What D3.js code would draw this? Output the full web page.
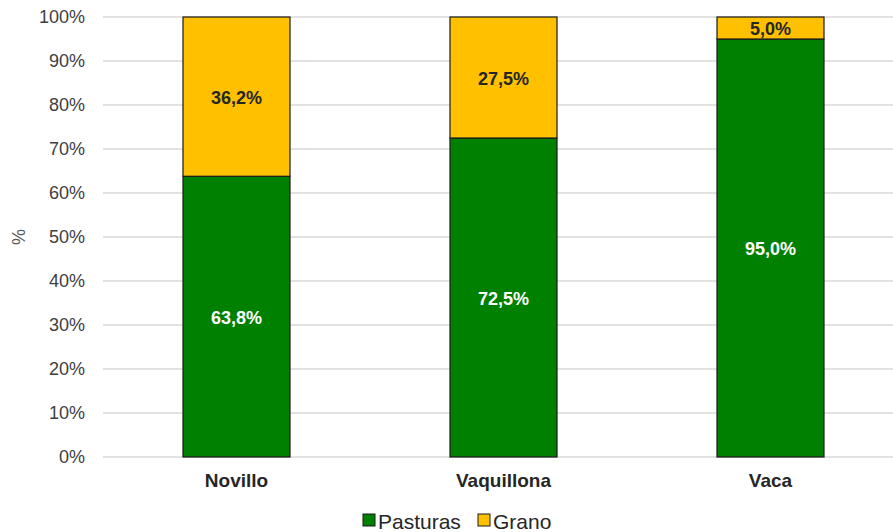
<!DOCTYPE html>
<html>
<head>
<meta charset="utf-8">
<script src="https://cdn.jsdelivr.net/npm/d3@7"></script>
<style>
  html, body { margin: 0; padding: 0; background: #fff; }
  svg { display: block; font-family: "Liberation Sans", Arial, sans-serif; }
</style>
</head>
<body>
<svg id="chart" width="893" height="532"></svg>
<script>
const categories = ["Novillo", "Vaquillona", "Vaca"];
const pasturas = [63.8, 72.5, 95.0];
const grano = [36.2, 27.5, 5.0];
const yTicks = [0, 10, 20, 30, 40, 50, 60, 70, 80, 90, 100];
const seriesNames = ["Pasturas", "Grano"];
const seriesColors = ["#008000", "#FFC000"];
const labelColors = ["#ffffff", "#262626"];

const svg = d3.select("#chart");

const x = d3.scaleBand().domain(categories).range([103, 904]).paddingInner(0.6).paddingOuter(0.3);
const y = d3.scaleLinear().domain([0, 100]).range([457, 17]);

// gridlines
svg.append("g").selectAll("line").data(yTicks).join("line")
  .attr("x1", 103).attr("x2", 893)
  .attr("y1", d => y(d)).attr("y2", d => y(d))
  .attr("stroke", "#d9d9d9").attr("stroke-width", 1.3);

// y axis labels
const yAxis = d3.axisLeft(y).tickValues(yTicks).tickFormat(d => d + "%").tickSize(0).tickPadding(0);
const ya = svg.append("g").attr("transform", "translate(85,0)").call(yAxis);
ya.select(".domain").remove();
ya.selectAll("text").attr("font-size", 18).attr("fill", "#404040")
  .attr("font-family", "Liberation Sans, Arial, sans-serif");

// axis title
svg.append("text").attr("transform", "translate(25,237) rotate(-90)")
  .attr("text-anchor", "middle").attr("font-size", 18).attr("fill", "#595959").text("%");

// stacked data
const rows = categories.map((c, i) => ({ cat: c, Pasturas: pasturas[i], Grano: grano[i] }));
const stack = d3.stack().keys(seriesNames)(rows);

const bw = 107;
const g = svg.append("g");
stack.forEach((layer, li) => {
  g.append("g").selectAll("rect").data(layer).join("rect")
    .attr("x", d => x(d.data.cat) + x.bandwidth() / 2 - bw / 2)
    .attr("width", bw)
    .attr("y", d => y(d[1]))
    .attr("height", d => y(d[0]) - y(d[1]))
    .attr("fill", seriesColors[li])
    .attr("stroke", "#1a1a1a").attr("stroke-width", 1.2);
});

// data labels
stack.forEach((layer, li) => {
  g.append("g").selectAll("text").data(layer).join("text")
    .attr("x", d => x(d.data.cat) + x.bandwidth() / 2)
    .attr("y", d => (y(d[0]) + y(d[1])) / 2 + 1)
    .attr("dy", "0.36em")
    .attr("text-anchor", "middle")
    .attr("font-size", 18).attr("font-weight", "bold")
    .attr("fill", labelColors[li])
    .text(d => (d[1] - d[0]).toFixed(1).replace(".", ",") + "%");
});

// category labels
const xa = svg.append("g").attr("transform", "translate(0,457)")
  .call(d3.axisBottom(x).tickSize(0).tickPadding(17));
xa.select(".domain").remove();
xa.selectAll("text").attr("font-size", 19).attr("font-weight", "bold").attr("fill", "#262626")
  .attr("font-family", "Liberation Sans, Arial, sans-serif");

// legend
const legendX = [363, 478];
const lg = svg.append("g");
seriesNames.forEach((n, i) => {
  lg.append("rect").attr("x", legendX[i]).attr("y", 514).attr("width", 12).attr("height", 12)
    .attr("fill", seriesColors[i]).attr("stroke", "#1a1a1a").attr("stroke-width", 1);
  lg.append("text").attr("x", legendX[i] + 15).attr("y", 521).attr("dy", "0.36em")
    .attr("font-size", 21).attr("fill", "#262626").text(n);
});
</script>
</body>
</html>
